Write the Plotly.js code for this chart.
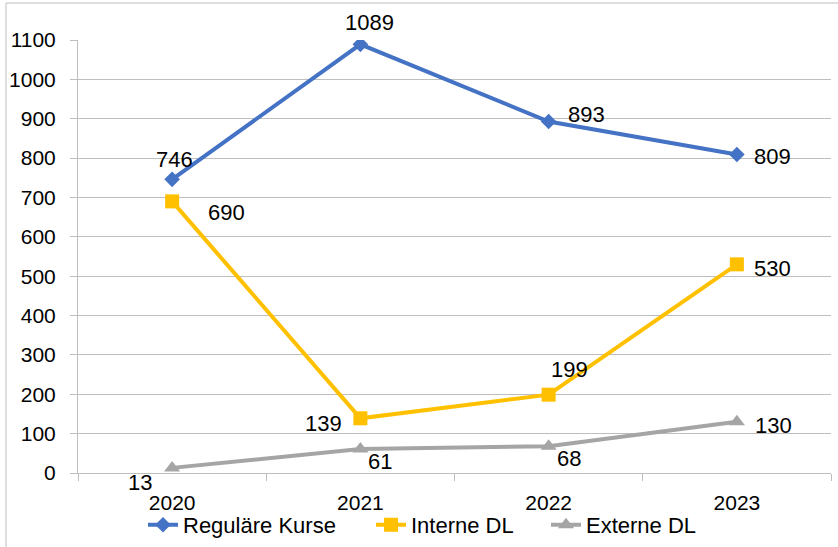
<!DOCTYPE html>
<html>
<head>
<meta charset="utf-8">
<script src="https://cdn.plot.ly/plotly-3.0.1.min.js"></script>
<style>html,body{margin:0;padding:0;background:#fff;}#chart{width:838px;height:547px;}</style>
</head>
<body>
<div id="chart"></div>
<script>
const years = ["2020", "2021", "2022", "2023"];
const regulaereKurse = [746, 1089, 893, 809];
const interneDL = [690, 139, 199, 530];
const externeDL = [13, 61, 68, 130];
const seriesNames = ["Reguläre Kurse", "Interne DL", "Externe DL"];

const colors = ["#4472C4", "#FFC000", "#A5A5A5"];
const symbols = ["diamond", "square", "triangle-up"];
const sizes = [12, 14, 14];
const allSeries = [regulaereKurse, interneDL, externeDL];

// label offsets in pixels [dx, dy] (dy positive = up)
const labelOffsets = [
  [[2, 20], [9, 22], [38, 7], [36, -2]],
  [[54, -11], [-37, -5], [21, 25], [36, -4]],
  [[-32, -15], [20, -13], [20, -12], [37, -4]]
];
// legend left positions (px)
const legendLeft = [143, 371, 546];
const legendIds = ["legend", "legend2", "legend3"];

const font = "Liberation Sans, Arial, sans-serif";

const traces = allSeries.map((vals, i) => ({
  type: "scatter",
  mode: "lines+markers",
  name: seriesNames[i],
  legend: legendIds[i],
  x: years,
  y: vals,
  line: {color: colors[i], width: 4},
  marker: {color: colors[i], symbol: symbols[i], size: sizes[i]}
}));

const annotations = [];
allSeries.forEach((vals, i) => {
  vals.forEach((v, j) => {
    annotations.push({
      x: j, y: v, xref: "x", yref: "y",
      text: String(v), showarrow: false,
      xanchor: "center", yanchor: "middle",
      xshift: labelOffsets[i][j][0], yshift: labelOffsets[i][j][1],
      font: {family: font, size: 22, color: "#000000"}
    });
  });
});

const layout = {
  width: 838, height: 547,
  margin: {l: 78, r: 7, t: 40, b: 74, autoexpand: false},
  paper_bgcolor: "#fff", plot_bgcolor: "#fff",
  font: {family: font, size: 21, color: "#000"},
  showlegend: true,
  xaxis: {
    type: "category",
    range: [-0.5, 3.5],
    showgrid: false,
    showline: true, linecolor: "#BEBEBE", linewidth: 1,
    ticks: "outside", tickson: "boundaries", ticklen: 7, tickcolor: "#BEBEBE",
    ticklabelstandoff: 11,
    tickfont: {family: font, size: 21, color: "#000"},
    zeroline: false
  },
  yaxis: {
    range: [0, 1100],
    tickvals: [0, 100, 200, 300, 400, 500, 600, 700, 800, 900, 1000, 1100],
    showgrid: true, gridcolor: "#BEBEBE", gridwidth: 1,
    showline: true, linecolor: "#BEBEBE", linewidth: 1,
    ticks: "outside", ticklen: 7, tickcolor: "#BEBEBE",
    ticklabelstandoff: 10,
    tickfont: {family: font, size: 21, color: "#000"},
    zeroline: false
  },
  annotations: annotations,
  shapes: [
    {type: "line", xref: "paper", yref: "paper",
     x0: (6 - 78) / 753, x1: (838 - 78) / 753, y0: 1 + 37 / 433, y1: 1 + 37 / 433,
     line: {color: "#BEBEBE", width: 1}},
    {type: "line", xref: "paper", yref: "paper",
     x0: (6 - 78) / 753, x1: (6 - 78) / 753, y0: 1 + 37 / 433, y1: -74 / 433,
     line: {color: "#BEBEBE", width: 1}}
  ]
};
legendIds.forEach((id, i) => {
  layout[id] = {
    orientation: "h", x: (legendLeft[i] - 78) / 753, xanchor: "left",
    y: -0.12, yanchor: "middle",
    bgcolor: "rgba(0,0,0,0)",
    font: {family: font, size: 22, color: "#000"}
  };
});

Plotly.newPlot("chart", traces, layout, {displayModeBar: false});
</script>
</body>
</html>
